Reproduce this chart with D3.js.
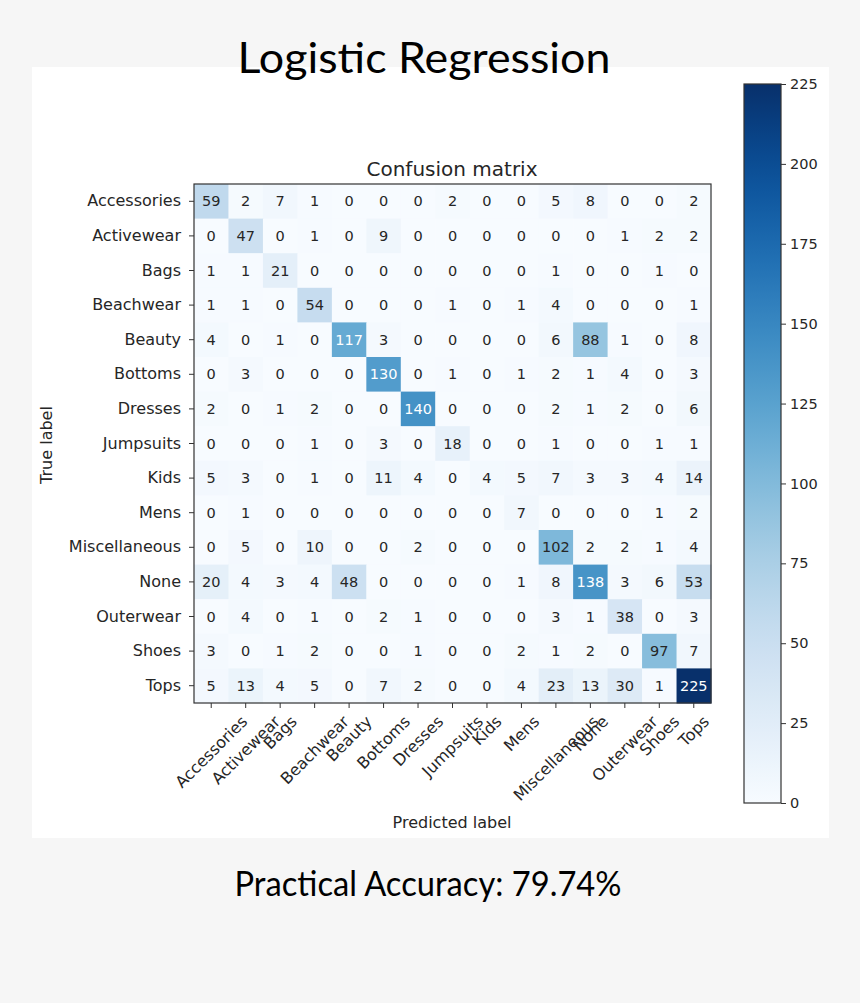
<!DOCTYPE html>
<html><head><meta charset="utf-8">
<script src="https://cdn.jsdelivr.net/npm/d3@7"></script>
<style>body{margin:0;background:#f6f6f6;}svg{display:block;}</style>
</head><body>
<svg id="c" width="860" height="1003"></svg>
<script>
const categories = ["Accessories","Activewear","Bags","Beachwear","Beauty","Bottoms","Dresses","Jumpsuits","Kids","Mens","Miscellaneous","None","Outerwear","Shoes","Tops"];
const rowAccessories  = [59,2,7,1,0,0,0,2,0,0,5,8,0,0,2];
const rowActivewear   = [0,47,0,1,0,9,0,0,0,0,0,0,1,2,2];
const rowBags         = [1,1,21,0,0,0,0,0,0,0,1,0,0,1,0];
const rowBeachwear    = [1,1,0,54,0,0,0,1,0,1,4,0,0,0,1];
const rowBeauty       = [4,0,1,0,117,3,0,0,0,0,6,88,1,0,8];
const rowBottoms      = [0,3,0,0,0,130,0,1,0,1,2,1,4,0,3];
const rowDresses      = [2,0,1,2,0,0,140,0,0,0,2,1,2,0,6];
const rowJumpsuits    = [0,0,0,1,0,3,0,18,0,0,1,0,0,1,1];
const rowKids         = [5,3,0,1,0,11,4,0,4,5,7,3,3,4,14];
const rowMens         = [0,1,0,0,0,0,0,0,0,7,0,0,0,1,2];
const rowMisc         = [0,5,0,10,0,0,2,0,0,0,102,2,2,1,4];
const rowNone         = [20,4,3,4,48,0,0,0,0,1,8,138,3,6,53];
const rowOuterwear    = [0,4,0,1,0,2,1,0,0,0,3,1,38,0,3];
const rowShoes        = [3,0,1,2,0,0,1,0,0,2,1,2,0,97,7];
const rowTops         = [5,13,4,5,0,7,2,0,0,4,23,13,30,1,225];
const colorbarTicks = [0,25,50,75,100,125,150,175,200,225];
const mainTitle = "Logistic Regression";
const chartTitle = "Confusion matrix";
const xLabel = "Predicted label";
const yLabel = "True label";
const footer = "Practical Accuracy: 79.74%";

const rows = [rowAccessories,rowActivewear,rowBags,rowBeachwear,rowBeauty,rowBottoms,rowDresses,rowJumpsuits,rowKids,rowMens,rowMisc,rowNone,rowOuterwear,rowShoes,rowTops];
const cells = [];
rows.forEach((r,i)=>r.forEach((v,j)=>cells.push({t:categories[i],p:categories[j],v})));

const svg = d3.select("#c");
const F = "'DejaVu Sans', sans-serif";
const TXT = "#262626";
const LBL = 16;

// white panel
svg.append("rect").attr("x",32).attr("y",67).attr("width",797).attr("height",771).attr("fill","#ffffff");

const L=194, T=184, W=517, H=519;
const x = d3.scaleBand().domain(categories).range([L,L+W]);
const y = d3.scaleBand().domain(categories).range([T,T+H]);
const vmax = d3.max(cells,d=>d.v);
const color = d3.scaleSequential(d3.interpolateBlues).domain([0,vmax]);

svg.append("g").selectAll("rect").data(cells).join("rect")
  .attr("x",d=>x(d.p)).attr("y",d=>y(d.t))
  .attr("width",x.bandwidth()+0.5).attr("height",y.bandwidth()+0.5)
  .attr("fill",d=>color(d.v));

svg.append("g").selectAll("text").data(cells).join("text")
  .attr("x",d=>x(d.p)+x.bandwidth()/2).attr("y",d=>y(d.t)+y.bandwidth()/2)
  .attr("text-anchor","middle").attr("dominant-baseline","central")
  .attr("font-family",F).attr("font-size",14.5)
  .attr("fill",d=>d.v>vmax/2?"#ffffff":TXT)
  .text(d=>d.v);

svg.append("rect").attr("x",L).attr("y",T).attr("width",W).attr("height",H)
  .attr("fill","none").attr("stroke","#333").attr("stroke-width",1.2);

// y axis
const yAx = svg.append("g").attr("transform",`translate(${L},0)`).call(d3.axisLeft(y).tickSize(5).tickPadding(8));
yAx.select(".domain").remove();
yAx.selectAll("line").attr("stroke","#333");
yAx.selectAll("text").attr("font-family",F).attr("font-size",LBL).attr("fill",TXT);

// x axis: rotated 45°, bounding box centred on the tick (matplotlib ha='center')
const xAx = svg.append("g").attr("transform",`translate(0,${T+H})`).call(d3.axisBottom(x).tickSize(5).tickPadding(4));
xAx.select(".domain").remove();
xAx.selectAll("line").attr("stroke","#333");
xAx.selectAll("text").attr("font-family",F).attr("font-size",LBL).attr("fill",TXT)
  .attr("text-anchor","middle").attr("y",0).attr("dy","0.35em")
  .attr("transform",function(){
    const w = this.getComputedTextLength();
    const h = LBL*1.16;
    const bh = (w+h)/Math.SQRT2;
    return `translate(0,${5+4+bh/2}) rotate(-45)`;
  });

// titles
svg.append("text").attr("x",452).attr("y",176).attr("text-anchor","middle")
  .attr("font-family",F).attr("font-size",20).attr("fill",TXT).text(chartTitle);
svg.append("text").attr("x",452).attr("y",828).attr("text-anchor","middle")
  .attr("font-family",F).attr("font-size",LBL).attr("fill",TXT).text(xLabel);
svg.append("text").attr("transform","translate(52,445) rotate(-90)").attr("text-anchor","middle")
  .attr("font-family",F).attr("font-size",LBL).attr("fill",TXT).text(yLabel);

// colorbar
const CX=744, CW=37, CT=84, CB=803;
const cy = d3.scaleLinear().domain([0,vmax]).range([CB,CT]);
const defs = svg.append("defs");
const grad = defs.append("linearGradient").attr("id","cb").attr("x1",0).attr("x2",0).attr("y1",1).attr("y2",0);
d3.range(0,1.0001,0.05).forEach(s=>grad.append("stop").attr("offset",s).attr("stop-color",d3.interpolateBlues(s)));
svg.append("rect").attr("x",CX).attr("y",CT).attr("width",CW).attr("height",CB-CT)
  .attr("fill","url(#cb)").attr("stroke","#333").attr("stroke-width",1.2);
const cAx = svg.append("g").attr("transform",`translate(${CX+CW},0)`).call(d3.axisRight(cy).tickValues(colorbarTicks).tickSize(5).tickPadding(4));
cAx.select(".domain").remove();
cAx.selectAll("line").attr("stroke","#333");
cAx.selectAll("text").attr("font-family",F).attr("font-size",14.5).attr("fill",TXT);

// main title and footer
svg.append("text").attr("x",424).attr("y",73).attr("text-anchor","middle")
  .attr("font-family","Lato, sans-serif").attr("font-size",43).attr("fill","#000")
  .attr("textLength",373).attr("lengthAdjust","spacingAndGlyphs").text(mainTitle);
svg.append("text").attr("x",428).attr("y",896).attr("text-anchor","middle")
  .attr("font-family","Lato, sans-serif").attr("font-size",34).attr("fill","#000")
  .attr("textLength",387).attr("lengthAdjust","spacingAndGlyphs").text(footer);
</script>
</body></html>
